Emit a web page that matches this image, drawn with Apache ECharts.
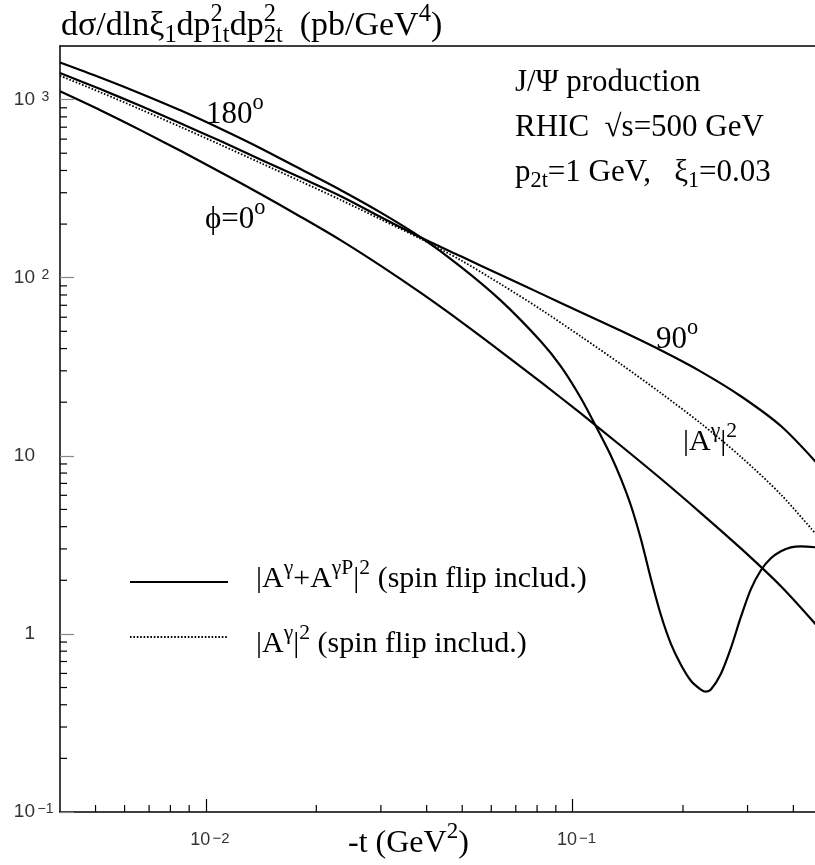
<!DOCTYPE html>
<html><head><meta charset="utf-8">
<script src="https://cdn.jsdelivr.net/npm/echarts@6/dist/echarts.min.js"></script>
<style>html,body{margin:0;padding:0;background:#fff}#c{width:815px;height:865px}</style>
</head><body><div id="c"></div>
<script>
// ---- data ----
const t180 = [0.004,0.00517,0.00665,0.00855,0.011,0.01413,0.01816,0.02334,0.030,0.03857,0.04959,0.06375,0.08196,0.0929,0.1053,0.1195,0.1272,0.1354,0.1442,0.1536,0.1636,0.1741,0.1854,0.1974,0.2102,0.2238,0.231,0.2383,0.2538,0.2703,0.2877,0.3064,0.3263,0.3474,0.3699,0.3938,0.4194,0.4609];
const v180 = [1616,1327,1080,868,684,532,406,310,232,168.4,115.2,74.4,43.9,31.8,21.1,12.9,10.0,7.44,5.26,3.40,2.03,1.277,0.879,0.671,0.546,0.487,0.474,0.487,0.598,0.835,1.245,1.784,2.278,2.658,2.909,3.062,3.102,3.062];
const tGrid = [0.004,0.00517,0.00665,0.00855,0.011,0.01413,0.01816,0.02334,0.030,0.03857,0.04959,0.06375,0.08196,0.1053,0.1354,0.1741,0.2238,0.2877,0.3699,0.4609];
const v90  = [1410,1142,920,734,583,459,364,287,219,168.4,131.9,103.5,81.4,64.0,50.3,39.1,29.7,21.6,14.7,9.22];
const vDot = [1362,1097,879,701,556,440,347,273,212.5,165.2,125.3,91.9,66.3,46.8,32.7,22.5,15.2,9.87,6.06,3.63];
const v0   = [1113,869,672,514,390,294,219.4,162.0,116.5,82.1,56.7,38.5,25.9,17.3,11.39,7.43,4.77,3.02,1.852,1.128];
const X_MIN = 0.004, X_MAX = 0.4582, Y_MIN = 0.1, Y_MAX = 2000;
const xMinorTicks = [0.005,0.006,0.007,0.008,0.009,0.02,0.03,0.04,0.05,0.06,0.07,0.08,0.09,0.2,0.3,0.4];
const yMinorTicks = [0.2,0.3,0.4,0.5,0.6,0.7,0.8,0.9,2,3,4,5,6,7,8,9,20,30,40,50,60,70,80,90,200,300,400,500,600,700,800,900];

// ---- text layout helper (super/subscripts) ----
const SERIF = '"Liberation Serif","Times New Roman",serif';
const SANS = '"Liberation Sans",Arial,sans-serif';
const mctx = document.createElement('canvas').getContext('2d');
function tw(s, f){ mctx.font = f + 'px ' + SERIF; return mctx.measureText(s).width; }
function txt(s, x, base, f){
  return {type:'text', x:x, y:base - 0.34*f, z:100, silent:true,
    style:{text:s, font: f + 'px ' + SERIF, fill:'#000', align:'left', verticalAlign:'middle'}};
}
function richText(parts, x, base, fs){
  const els = []; let cx = x; const sf = fs*0.72;
  parts.forEach(p => {
    if (typeof p === 'string'){ els.push(txt(p, cx, base, fs)); cx += tw(p, fs); }
    else {
      let w = 0;
      if (p.u){ els.push(txt(p.u, cx, base - 0.45*fs, sf)); w = Math.max(w, tw(p.u, sf)); }
      if (p.d){ els.push(txt(p.d, cx, base + 0.17*fs, sf)); w = Math.max(w, tw(p.d, sf)); }
      cx += w;
    }
  });
  return els;
}

const graphics = [].concat(
  richText(['dσ/dlnξ', {d:'1'}, 'dp', {u:'2', d:'1t'}, 'dp', {u:'2', d:'2t'}, '  (pb/GeV', {u:'4'}, ')'], 61, 38, 34),
  richText(['J/Ψ production'], 515, 93, 31),
  richText(['RHIC  √s=500 GeV'], 515, 138, 31),
  richText(['p', {d:'2t'}, '=1 GeV,   ξ', {d:'1'}, '=0.03'], 515, 183, 31),
  richText(['180', {u:'o'}], 206, 125, 31),
  richText(['ϕ=0', {u:'o'}], 205, 230, 31),
  richText(['90', {u:'o'}], 656, 350, 31),
  richText(['|A', {u:'γ'}, '|', {u:'2'}], 683, 452, 30),
  richText(['|A', {u:'γ'}, '+A', {u:'γP'}, '|', {u:'2'}, ' (spin flip includ.)'], 256, 589, 30),
  richText(['|A', {u:'γ'}, '|', {u:'2'}, ' (spin flip includ.)'], 256, 654, 30),
  richText(['-t (GeV', {u:'2'}, ')'], 348, 854, 32),
  [
    {type:'line', shape:{x1:130, y1:582, x2:228, y2:582}, style:{stroke:'#000', lineWidth:2.2}, z:100},
    {type:'line', shape:{x1:130, y1:637, x2:228, y2:637}, style:{stroke:'#000', lineWidth:1.8, lineDash:[1.6,1.8]}, z:100}
  ]
);

function expLabel(v, yAxis){
  const e = Math.round(Math.log10(v));
  if (e === 0) return yAxis ? '1{e| }' : '1';
  if (e === 1) return yAxis ? '10{e| }' : '10';
  return '10{e|' + (e < 0 ? '\u2212' + (-e) : e) + '}';
}

const chart = echarts.init(document.getElementById('c'), null, {renderer:'canvas'});
const lineBase = {type:'line', showSymbol:false, smooth:0.3, animation:false, clip:true, silent:true};
const pairs = (ts, vs) => ts.map((t, i) => [t, vs[i]]);
chart.setOption({
  animation:false,
  backgroundColor:'#fff',
  grid:{left:60, top:46, right:0, bottom:53, show:false},
  xAxis:[{type:'log', logBase:10, min:X_MIN, max:X_MAX,
    axisLine:{show:true, lineStyle:{color:'#000', width:1.5}},
    axisTick:{show:true, inside:true, length:13, lineStyle:{color:'#000', width:1.2}},
    splitLine:{show:false},
    axisLabel:{show:true, showMinLabel:false, showMaxLabel:false, margin:19, color:'#333',
      fontFamily:SANS, fontSize:18, padding:[0,0,0,8],
      formatter:v => expLabel(v, false),
      rich:{e:{fontFamily:SANS, fontSize:15, color:'#333', verticalAlign:'top', lineHeight:6, padding:[0,0,0,2]}}}
  },{type:'log', logBase:10, min:X_MIN, max:X_MAX, position:'top',
    axisLine:{show:true, lineStyle:{color:'#000', width:1.5}},
    axisTick:{show:false}, axisLabel:{show:false}, splitLine:{show:false}}],
  yAxis:{type:'log', logBase:10, min:Y_MIN, max:Y_MAX,
    axisLine:{show:true, lineStyle:{color:'#000', width:1.5}},
    axisTick:{show:true, inside:true, length:14, lineStyle:{color:'#888', width:1.2}},
    splitLine:{show:false},
    axisLabel:{show:true, showMinLabel:true, showMaxLabel:false, margin:7, color:'#333',
      fontFamily:SANS, fontSize:19, align:'right',
      formatter:v => expLabel(v, true),
      rich:{e:{fontFamily:SANS, fontSize:14, color:'#333', verticalAlign:'top', lineHeight:6, width:15, align:'left', padding:[0,0,0,3]}}}
  },
  graphic:{elements:graphics},
  series:[
    Object.assign({}, lineBase, {name:'180', data:pairs(t180, v180), lineStyle:{color:'#000', width:2.2}}),
    Object.assign({}, lineBase, {name:'90', data:pairs(tGrid, v90), lineStyle:{color:'#000', width:2.2}}),
    Object.assign({}, lineBase, {name:'0', data:pairs(tGrid, v0), lineStyle:{color:'#000', width:2.2}}),
    Object.assign({}, lineBase, {name:'dot', data:pairs(tGrid, vDot), lineStyle:{color:'#000', width:1.8, type:[1.6,1.8]}}),
    {type:'custom', silent:true, animation:false, clip:false,
      data:xMinorTicks.map(v=>[v, Y_MIN]),
      renderItem:(p, api)=>{ const pt = api.coord([api.value(0), Y_MIN]);
        return {type:'line', shape:{x1:pt[0], y1:pt[1], x2:pt[0], y2:pt[1]-7}, style:{stroke:'#000', lineWidth:1.2}}; }},
    {type:'custom', silent:true, animation:false, clip:false,
      data:yMinorTicks.map(v=>[X_MIN, v]),
      renderItem:(p, api)=>{ const pt = api.coord([X_MIN, api.value(1)]);
        return {type:'line', shape:{x1:pt[0], y1:pt[1], x2:pt[0]+7, y2:pt[1]}, style:{stroke:'#000', lineWidth:1.2}}; }}
  ]
});
</script></body></html>
